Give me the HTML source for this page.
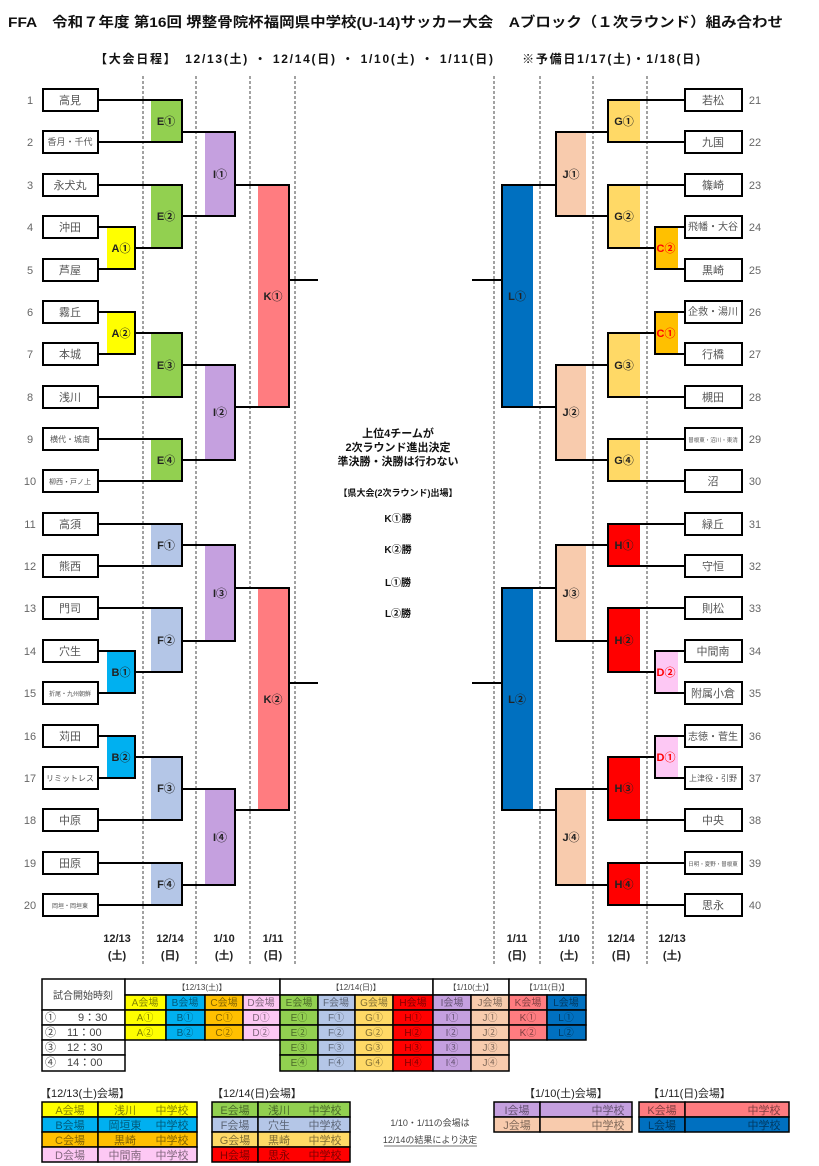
<!DOCTYPE html>
<html><head><meta charset="utf-8"><style>
html,body{margin:0;padding:0;background:#fff}
svg{display:block;font-family:"Liberation Sans","Noto Sans CJK JP",sans-serif}
.t{font-size:11px;fill:#555;text-anchor:middle}
.n{font-size:11px;fill:#666;text-anchor:middle}
.tb{fill:#fff;stroke:#000;stroke-width:2}
.ln{fill:none;stroke:#000;stroke-width:2}
.lb{font-size:11px;font-weight:bold;text-anchor:middle;fill:#222}
.dl{stroke:#444;stroke-width:1;stroke-dasharray:3,2}
.c{stroke:#000;stroke-width:1.5}
.ct{font-size:10px;text-anchor:middle;fill:rgba(0,0,0,0.5)}
</style></head><body>
<svg width="819" height="1166" viewBox="0 0 819 1166" xmlns="http://www.w3.org/2000/svg">
<text x="8" y="27" style="font-size:14px;font-weight:bold" fill="#111" textLength="775" lengthAdjust="spacingAndGlyphs">FFA　令和７年度 第16回 堺整骨院杯福岡県中学校(U-14)サッカー大会　Aブロック（１次ラウンド）組み合わせ</text>
<text x="95" y="63" style="font-size:12px;font-weight:bold" fill="#111" textLength="605" lengthAdjust="spacing">【大会日程】　12/13(土) ・ 12/14(日) ・ 1/10(土) ・ 1/11(日)　　※予備日1/17(土)・1/18(日)</text>

<g class="dl">
<line x1="143" y1="76" x2="143" y2="965"/><line x1="196" y1="76" x2="196" y2="965"/><line x1="250" y1="76" x2="250" y2="965"/><line x1="295" y1="76" x2="295" y2="965"/>
<line x1="494" y1="76" x2="494" y2="965"/><line x1="540" y1="76" x2="540" y2="965"/><line x1="593" y1="76" x2="593" y2="965"/><line x1="647" y1="76" x2="647" y2="965"/>
</g>

<rect x="107" y="227" width="28" height="42" fill="#ffff00"/>
<rect x="107" y="312" width="28" height="42" fill="#ffff00"/>
<rect x="107" y="651" width="28" height="42" fill="#00b0f0"/>
<rect x="107" y="736" width="28" height="42" fill="#00b0f0"/>
<rect x="151" y="100" width="31" height="42" fill="#92d050"/>
<rect x="151" y="185" width="31" height="63" fill="#92d050"/>
<rect x="151" y="333" width="31" height="64" fill="#92d050"/>
<rect x="151" y="439" width="31" height="42" fill="#92d050"/>
<rect x="151" y="524" width="31" height="42" fill="#b4c6e7"/>
<rect x="151" y="608" width="31" height="64" fill="#b4c6e7"/>
<rect x="151" y="757" width="31" height="63" fill="#b4c6e7"/>
<rect x="151" y="863" width="31" height="42" fill="#b4c6e7"/>
<rect x="205" y="132" width="30" height="84" fill="#c5a0df"/>
<rect x="205" y="365" width="30" height="95" fill="#c5a0df"/>
<rect x="205" y="545" width="30" height="96" fill="#c5a0df"/>
<rect x="205" y="789" width="30" height="96" fill="#c5a0df"/>
<rect x="258" y="185" width="31" height="222" fill="#ff7c80"/>
<rect x="258" y="588" width="31" height="222" fill="#ff7c80"/>
<rect x="655" y="227" width="23" height="42" fill="#ffc000"/>
<rect x="655" y="312" width="23" height="42" fill="#ffc000"/>
<rect x="655" y="651" width="23" height="42" fill="#fdc8f4"/>
<rect x="655" y="736" width="23" height="42" fill="#fdc8f4"/>
<rect x="608" y="100" width="32" height="42" fill="#ffd966"/>
<rect x="608" y="185" width="32" height="63" fill="#ffd966"/>
<rect x="608" y="333" width="32" height="64" fill="#ffd966"/>
<rect x="608" y="439" width="32" height="42" fill="#ffd966"/>
<rect x="608" y="524" width="32" height="42" fill="#ff0000"/>
<rect x="608" y="608" width="32" height="64" fill="#ff0000"/>
<rect x="608" y="757" width="32" height="63" fill="#ff0000"/>
<rect x="608" y="863" width="32" height="42" fill="#ff0000"/>
<rect x="556" y="132" width="30" height="84" fill="#f8cbad"/>
<rect x="556" y="365" width="30" height="95" fill="#f8cbad"/>
<rect x="556" y="545" width="30" height="96" fill="#f8cbad"/>
<rect x="556" y="789" width="30" height="96" fill="#f8cbad"/>
<rect x="502" y="185" width="31" height="222" fill="#0070c0"/>
<rect x="502" y="588" width="31" height="222" fill="#0070c0"/>

<path class="ln" d="M98,227H135V269H98 M98,312H135V354H98 M98,651H135V693H98 M98,736H135V778H98
M98,100H182V142H98 M98,185H182V248H135 M135,333H182V397H98 M98,439H182V481H98
M98,524H182V566H98 M98,608H182V672H135 M135,757H182V820H98 M98,863H182V905H98
M182,132H235V216H182 M182,365H235V460H182 M182,545H235V641H182 M182,789H235V885H182
M235,185H289V407H235 M289,280H318 M235,588H289V810H235 M289,683H318
M685,227H655V269H685 M685,312H655V354H685 M685,651H655V693H685 M685,736H655V778H685
M685,100H608V142H685 M685,185H608V248H655 M655,333H608V397H685 M685,439H608V481H685
M685,524H608V566H685 M685,608H608V672H655 M655,757H608V820H685 M685,863H608V905H685
M608,132H556V216H608 M608,365H556V460H608 M608,545H556V641H608 M608,789H556V885H608
M556,185H502V407H556 M502,280H472 M556,588H502V810H556 M502,683H472"/>

<g class="lb">
<text x="121" y="252">A①</text><text x="121" y="337">A②</text><text x="121" y="676">B①</text><text x="121" y="761">B②</text>
<text x="166" y="125">E①</text><text x="166" y="220">E②</text><text x="166" y="369">E③</text><text x="166" y="464">E④</text>
<text x="166" y="549">F①</text><text x="166" y="644">F②</text><text x="166" y="792">F③</text><text x="166" y="888">F④</text>
<text x="220" y="178">I①</text><text x="220" y="416">I②</text><text x="220" y="597">I③</text><text x="220" y="841">I④</text>
<text x="273" y="300">K①</text><text x="273" y="703">K②</text>
<text x="666" y="252" style="fill:#f00">C②</text><text x="666" y="337" style="fill:#f00">C①</text>
<text x="666" y="676" style="fill:#f00">D②</text><text x="666" y="761" style="fill:#f00">D①</text>
<text x="624" y="125">G①</text><text x="624" y="220">G②</text><text x="624" y="369">G③</text><text x="624" y="464">G④</text>
<text x="624" y="549">H①</text><text x="624" y="644">H②</text><text x="624" y="792">H③</text><text x="624" y="888">H④</text>
<text x="571" y="178">J①</text><text x="571" y="416">J②</text><text x="571" y="597">J③</text><text x="571" y="841">J④</text>
<text x="517" y="300">L①</text><text x="517" y="703">L②</text>
</g>

<g class="tb">
<rect x="43" y="89" width="55" height="22"/><rect x="43" y="131" width="55" height="22"/><rect x="43" y="174" width="55" height="22"/><rect x="43" y="216" width="55" height="22"/><rect x="43" y="259" width="55" height="22"/>
<rect x="43" y="301" width="55" height="22"/><rect x="43" y="343" width="55" height="22"/><rect x="43" y="386" width="55" height="22"/><rect x="43" y="428" width="55" height="22"/><rect x="43" y="470" width="55" height="22"/>
<rect x="43" y="513" width="55" height="22"/><rect x="43" y="555" width="55" height="22"/><rect x="43" y="597" width="55" height="22"/><rect x="43" y="640" width="55" height="22"/><rect x="43" y="682" width="55" height="22"/>
<rect x="43" y="725" width="55" height="22"/><rect x="43" y="767" width="55" height="22"/><rect x="43" y="809" width="55" height="22"/><rect x="43" y="852" width="55" height="22"/><rect x="43" y="894" width="55" height="22"/>
<rect x="685" y="89" width="57" height="22"/><rect x="685" y="131" width="57" height="22"/><rect x="685" y="174" width="57" height="22"/><rect x="685" y="216" width="57" height="22"/><rect x="685" y="259" width="57" height="22"/>
<rect x="685" y="301" width="57" height="22"/><rect x="685" y="343" width="57" height="22"/><rect x="685" y="386" width="57" height="22"/><rect x="685" y="428" width="57" height="22"/><rect x="685" y="470" width="57" height="22"/>
<rect x="685" y="513" width="57" height="22"/><rect x="685" y="555" width="57" height="22"/><rect x="685" y="597" width="57" height="22"/><rect x="685" y="640" width="57" height="22"/><rect x="685" y="682" width="57" height="22"/>
<rect x="685" y="725" width="57" height="22"/><rect x="685" y="767" width="57" height="22"/><rect x="685" y="809" width="57" height="22"/><rect x="685" y="852" width="57" height="22"/><rect x="685" y="894" width="57" height="22"/>
</g>
<g class="t">
<text x="70" y="104">高見</text><text x="70" y="145" style="font-size:9px">香月・千代</text><text x="70" y="189">永犬丸</text><text x="70" y="231">沖田</text><text x="70" y="274">芦屋</text>
<text x="70" y="316">霧丘</text><text x="70" y="358">本城</text><text x="70" y="401">浅川</text><text x="70" y="442" style="font-size:8px">横代・城南</text><text x="70" y="484" style="font-size:7px">柳西・戸ノ上</text>
<text x="70" y="528">高須</text><text x="70" y="570">熊西</text><text x="70" y="612">門司</text><text x="70" y="655">穴生</text><text x="70" y="696" style="font-size:6px">折尾・九州朝鮮</text>
<text x="70" y="740">苅田</text><text x="70" y="781" style="font-size:8px">リミットレス</text><text x="70" y="824">中原</text><text x="70" y="867">田原</text><text x="70" y="908" style="font-size:6px">岡垣・岡垣東</text>
<text x="713" y="104">若松</text><text x="713" y="146">九国</text><text x="713" y="189">篠崎</text><text x="713" y="230" style="font-size:10px">飛幡・大谷</text><text x="713" y="274">黒崎</text>
<text x="713" y="315" style="font-size:10px">企救・湯川</text><text x="713" y="358">行橋</text><text x="713" y="401">槻田</text><text x="713" y="442" style="font-size:5.5px">曽根東・沼川・東清</text><text x="713" y="485">沼</text>
<text x="713" y="528">緑丘</text><text x="713" y="570">守恒</text><text x="713" y="612">則松</text><text x="713" y="655">中間南</text><text x="713" y="697">附属小倉</text>
<text x="713" y="740" style="font-size:10px">志徳・菅生</text><text x="713" y="781" style="font-size:8px">上津役・引野</text><text x="713" y="824">中央</text><text x="713" y="866" style="font-size:5.5px">日明・夏野・曽根東</text><text x="713" y="909">思永</text>
</g>
<g class="n">
<text x="30" y="104">1</text><text x="30" y="146">2</text><text x="30" y="189">3</text><text x="30" y="231">4</text><text x="30" y="274">5</text><text x="30" y="316">6</text><text x="30" y="358">7</text><text x="30" y="401">8</text><text x="30" y="443">9</text><text x="30" y="485">10</text>
<text x="30" y="528">11</text><text x="30" y="570">12</text><text x="30" y="612">13</text><text x="30" y="655">14</text><text x="30" y="697">15</text><text x="30" y="740">16</text><text x="30" y="782">17</text><text x="30" y="824">18</text><text x="30" y="867">19</text><text x="30" y="909">20</text>
<text x="755" y="104">21</text><text x="755" y="146">22</text><text x="755" y="189">23</text><text x="755" y="231">24</text><text x="755" y="274">25</text><text x="755" y="316">26</text><text x="755" y="358">27</text><text x="755" y="401">28</text><text x="755" y="443">29</text><text x="755" y="485">30</text>
<text x="755" y="528">31</text><text x="755" y="570">32</text><text x="755" y="612">33</text><text x="755" y="655">34</text><text x="755" y="697">35</text><text x="755" y="740">36</text><text x="755" y="782">37</text><text x="755" y="824">38</text><text x="755" y="867">39</text><text x="755" y="909">40</text>
</g>

<g style="font-size:11px;font-weight:bold;text-anchor:middle" fill="#111">
<text x="398" y="437">上位4チームが</text>
<text x="398" y="451">2次ラウンド進出決定</text>
<text x="398" y="465">準決勝・決勝は行わない</text>
<text x="398" y="496" style="font-size:9px">【県大会(2次ラウンド)出場】</text>
<text x="398" y="522" style="font-size:10px">K①勝</text>
<text x="398" y="553" style="font-size:10px">K②勝</text>
<text x="398" y="586" style="font-size:10px">L①勝</text>
<text x="398" y="617" style="font-size:10px">L②勝</text>
</g>

<g style="font-size:11px;font-weight:bold;text-anchor:middle" fill="#222">
<text x="117" y="942">12/13</text><text x="117" y="959">(土)</text>
<text x="170" y="942">12/14</text><text x="170" y="959">(日)</text>
<text x="224" y="942">1/10</text><text x="224" y="959">(土)</text>
<text x="273" y="942">1/11</text><text x="273" y="959">(日)</text>
<text x="517" y="942">1/11</text><text x="517" y="959">(日)</text>
<text x="569" y="942">1/10</text><text x="569" y="959">(土)</text>
<text x="621" y="942">12/14</text><text x="621" y="959">(日)</text>
<text x="672" y="942">12/13</text><text x="672" y="959">(土)</text>
</g>

<g class="c">
<rect x="42" y="979" width="83" height="31" fill="#fff"/>
<rect x="42" y="1010" width="83" height="15" fill="#fff"/><rect x="42" y="1025" width="83" height="15" fill="#fff"/><rect x="42" y="1040" width="83" height="15" fill="#fff"/><rect x="42" y="1055" width="83" height="16" fill="#fff"/>
<rect x="125" y="979" width="155" height="16" fill="#fff"/><rect x="280" y="979" width="153" height="16" fill="#fff"/><rect x="433" y="979" width="76" height="16" fill="#fff"/><rect x="509" y="979" width="77" height="16" fill="#fff"/>
<rect x="125" y="995" width="41" height="15" fill="#ffff00"/><rect x="125" y="1010" width="41" height="15" fill="#ffff00"/><rect x="125" y="1025" width="41" height="15" fill="#ffff00"/>
<rect x="166" y="995" width="39" height="15" fill="#00b0f0"/><rect x="166" y="1010" width="39" height="15" fill="#00b0f0"/><rect x="166" y="1025" width="39" height="15" fill="#00b0f0"/>
<rect x="205" y="995" width="38" height="15" fill="#ffc000"/><rect x="205" y="1010" width="38" height="15" fill="#ffc000"/><rect x="205" y="1025" width="38" height="15" fill="#ffc000"/>
<rect x="243" y="995" width="37" height="15" fill="#fdc8f4"/><rect x="243" y="1010" width="37" height="15" fill="#fdc8f4"/><rect x="243" y="1025" width="37" height="15" fill="#fdc8f4"/>
<rect x="280" y="995" width="38" height="15" fill="#92d050"/><rect x="280" y="1010" width="38" height="15" fill="#92d050"/><rect x="280" y="1025" width="38" height="15" fill="#92d050"/><rect x="280" y="1040" width="38" height="15" fill="#92d050"/><rect x="280" y="1055" width="38" height="16" fill="#92d050"/>
<rect x="318" y="995" width="37" height="15" fill="#b4c6e7"/><rect x="318" y="1010" width="37" height="15" fill="#b4c6e7"/><rect x="318" y="1025" width="37" height="15" fill="#b4c6e7"/><rect x="318" y="1040" width="37" height="15" fill="#b4c6e7"/><rect x="318" y="1055" width="37" height="16" fill="#b4c6e7"/>
<rect x="355" y="995" width="38" height="15" fill="#ffd966"/><rect x="355" y="1010" width="38" height="15" fill="#ffd966"/><rect x="355" y="1025" width="38" height="15" fill="#ffd966"/><rect x="355" y="1040" width="38" height="15" fill="#ffd966"/><rect x="355" y="1055" width="38" height="16" fill="#ffd966"/>
<rect x="393" y="995" width="40" height="15" fill="#ff0000"/><rect x="393" y="1010" width="40" height="15" fill="#ff0000"/><rect x="393" y="1025" width="40" height="15" fill="#ff0000"/><rect x="393" y="1040" width="40" height="15" fill="#ff0000"/><rect x="393" y="1055" width="40" height="16" fill="#ff0000"/>
<rect x="433" y="995" width="38" height="15" fill="#c5a0df"/><rect x="433" y="1010" width="38" height="15" fill="#c5a0df"/><rect x="433" y="1025" width="38" height="15" fill="#c5a0df"/><rect x="433" y="1040" width="38" height="15" fill="#c5a0df"/><rect x="433" y="1055" width="38" height="16" fill="#c5a0df"/>
<rect x="471" y="995" width="38" height="15" fill="#f8cbad"/><rect x="471" y="1010" width="38" height="15" fill="#f8cbad"/><rect x="471" y="1025" width="38" height="15" fill="#f8cbad"/><rect x="471" y="1040" width="38" height="15" fill="#f8cbad"/><rect x="471" y="1055" width="38" height="16" fill="#f8cbad"/>
<rect x="509" y="995" width="38" height="15" fill="#ff7c80"/><rect x="509" y="1010" width="38" height="15" fill="#ff7c80"/><rect x="509" y="1025" width="38" height="15" fill="#ff7c80"/>
<rect x="547" y="995" width="39" height="15" fill="#0070c0"/><rect x="547" y="1010" width="39" height="15" fill="#0070c0"/><rect x="547" y="1025" width="39" height="15" fill="#0070c0"/>
</g>
<g style="font-size:8px;text-anchor:middle" fill="#444">
<text x="202" y="990">【12/13(土)】</text><text x="356" y="990">【12/14(日)】</text><text x="471" y="990">【1/10(土)】</text><text x="547" y="990">【1/11(日)】</text>
</g>
<g style="font-size:11px" fill="#444">
<text x="83" y="999" text-anchor="middle" style="font-size:10px">試合開始時刻</text>
<text x="45" y="1021">①　　9：30</text><text x="45" y="1036">②　11：00</text><text x="45" y="1051">③　12：30</text><text x="45" y="1066">④　14：00</text>
</g>
<g class="ct">
<text x="145" y="1006">A会場</text><text x="185" y="1006">B会場</text><text x="224" y="1006">C会場</text><text x="261" y="1006">D会場</text>
<text x="299" y="1006">E会場</text><text x="336" y="1006">F会場</text><text x="374" y="1006">G会場</text><text x="413" y="1006">H会場</text>
<text x="452" y="1006">I会場</text><text x="490" y="1006">J会場</text><text x="528" y="1006">K会場</text><text x="566" y="1006">L会場</text>
<text x="145" y="1021">A①</text><text x="185" y="1021">B①</text><text x="224" y="1021">C①</text><text x="261" y="1021">D①</text>
<text x="299" y="1021">E①</text><text x="336" y="1021">F①</text><text x="374" y="1021">G①</text><text x="413" y="1021">H①</text>
<text x="452" y="1021">I①</text><text x="490" y="1021">J①</text><text x="528" y="1021">K①</text><text x="566" y="1021">L①</text>
<text x="145" y="1036">A②</text><text x="185" y="1036">B②</text><text x="224" y="1036">C②</text><text x="261" y="1036">D②</text>
<text x="299" y="1036">E②</text><text x="336" y="1036">F②</text><text x="374" y="1036">G②</text><text x="413" y="1036">H②</text>
<text x="452" y="1036">I②</text><text x="490" y="1036">J②</text><text x="528" y="1036">K②</text><text x="566" y="1036">L②</text>
<text x="299" y="1051">E③</text><text x="336" y="1051">F③</text><text x="374" y="1051">G③</text><text x="413" y="1051">H③</text><text x="452" y="1051">I③</text><text x="490" y="1051">J③</text>
<text x="299" y="1066">E④</text><text x="336" y="1066">F④</text><text x="374" y="1066">G④</text><text x="413" y="1066">H④</text><text x="452" y="1066">I④</text><text x="490" y="1066">J④</text>
</g>

<g style="font-size:11px" fill="#222">
<text x="40" y="1097">【12/13(土)会場】</text>
<text x="212" y="1097">【12/14(日)会場】</text>
<text x="524" y="1097">【1/10(土)会場】</text>
<text x="648" y="1097">【1/11(日)会場】</text>
</g>
<g class="c">
<rect x="42" y="1102" width="56" height="15" fill="#ffff00"/><rect x="98" y="1102" width="99" height="15" fill="#ffff00"/>
<rect x="42" y="1117" width="56" height="15" fill="#00b0f0"/><rect x="98" y="1117" width="99" height="15" fill="#00b0f0"/>
<rect x="42" y="1132" width="56" height="15" fill="#ffc000"/><rect x="98" y="1132" width="99" height="15" fill="#ffc000"/>
<rect x="42" y="1147" width="56" height="15" fill="#fdc8f4"/><rect x="98" y="1147" width="99" height="15" fill="#fdc8f4"/>
<rect x="212" y="1102" width="46" height="15" fill="#92d050"/><rect x="258" y="1102" width="92" height="15" fill="#92d050"/>
<rect x="212" y="1117" width="46" height="15" fill="#b4c6e7"/><rect x="258" y="1117" width="92" height="15" fill="#b4c6e7"/>
<rect x="212" y="1132" width="46" height="15" fill="#ffd966"/><rect x="258" y="1132" width="92" height="15" fill="#ffd966"/>
<rect x="212" y="1147" width="46" height="15" fill="#ff0000"/><rect x="258" y="1147" width="92" height="15" fill="#ff0000"/>
<rect x="494" y="1102" width="46" height="15" fill="#c5a0df"/><rect x="540" y="1102" width="92" height="15" fill="#c5a0df"/>
<rect x="494" y="1117" width="46" height="15" fill="#f8cbad"/><rect x="540" y="1117" width="92" height="15" fill="#f8cbad"/>
<rect x="639" y="1102" width="46" height="15" fill="#ff7c80"/><rect x="685" y="1102" width="104" height="15" fill="#ff7c80"/>
<rect x="639" y="1117" width="46" height="15" fill="#0070c0"/><rect x="685" y="1117" width="104" height="15" fill="#0070c0"/>
</g>
<g style="font-size:11px;text-anchor:middle" fill="rgba(0,0,0,0.5)">
<text x="70" y="1114">A会場</text><text x="125" y="1114">浅川</text><text x="172" y="1114">中学校</text>
<text x="70" y="1129">B会場</text><text x="125" y="1129">岡垣東</text><text x="172" y="1129">中学校</text>
<text x="70" y="1144">C会場</text><text x="125" y="1144">黒崎</text><text x="172" y="1144">中学校</text>
<text x="70" y="1159">D会場</text><text x="125" y="1159">中間南</text><text x="172" y="1159">中学校</text>
<text x="235" y="1114">E会場</text><text x="279" y="1114">浅川</text><text x="325" y="1114">中学校</text>
<text x="235" y="1129">F会場</text><text x="279" y="1129">穴生</text><text x="325" y="1129">中学校</text>
<text x="235" y="1144">G会場</text><text x="279" y="1144">黒崎</text><text x="325" y="1144">中学校</text>
<text x="235" y="1159">H会場</text><text x="279" y="1159">思永</text><text x="325" y="1159">中学校</text>
<text x="517" y="1114">I会場</text><text x="608" y="1114">中学校</text>
<text x="517" y="1129">J会場</text><text x="608" y="1129">中学校</text>
<text x="662" y="1114">K会場</text><text x="764" y="1114">中学校</text>
<text x="662" y="1129">L会場</text><text x="764" y="1129">中学校</text>
</g>
<g style="font-size:9px;text-anchor:middle" fill="#444">
<text x="430" y="1126">1/10・1/11の会場は</text>
<text x="430" y="1143">12/14の結果により決定</text>
</g>
<line x1="384" y1="1146" x2="477" y2="1146" stroke="#444" stroke-width="0.8"/>
</svg>
</body></html>
